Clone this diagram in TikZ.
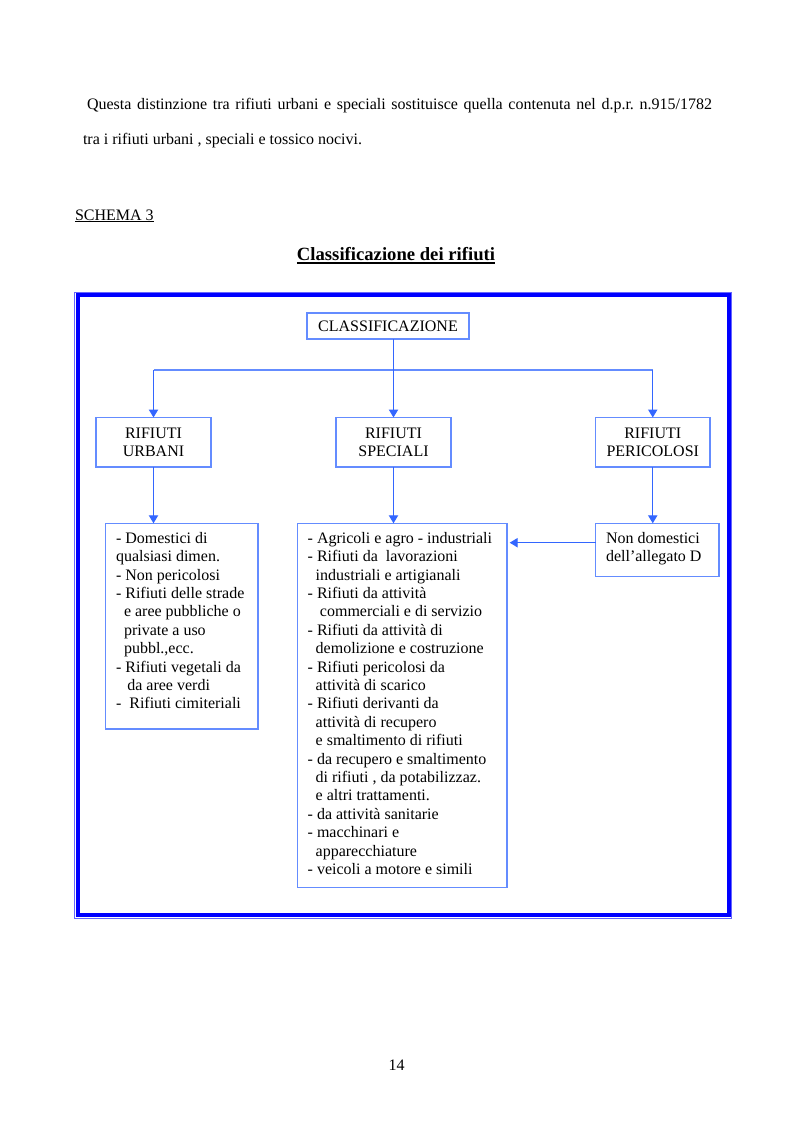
\documentclass[tikz,border=0pt]{standalone}
\usepackage{fontspec}
\setmainfont{Liberation Serif}
\usetikzlibrary{arrows.meta}
\newdimen\pxu \pxu=0.75pt
\definecolor{frameblue}{RGB}{0,0,255}
\definecolor{connblue}{RGB}{51,102,255}
\definecolor{boxblue}{RGB}{100,140,255}
\tikzset{
 every node/.style={inner sep=0pt, outer sep=0pt},
 txt/.style={font=\fontsize{12}{13.8}\selectfont},
 box/.style={draw=boxblue, line width=0.9pt, anchor=north west, font=\fontsize{12}{13.8}\selectfont, align=center},
 list/.style={anchor=north west, align=left, font=\fontsize{12}{13.8}\selectfont},
 conn/.style={draw=connblue, line width=0.8pt},
 hubline/.style={draw=boxblue, line width=0.8pt},
 arr/.style={conn, -{Triangle[length=6pt,width=7pt]}},
 framethick/.style={draw=frameblue, line width=3pt},
 framethin/.style={draw=frameblue!60, line width=0.6pt},
}
\begin{document}
\begin{tikzpicture}[x=0.75pt,y=-0.75pt]
\useasboundingbox (0,0) rectangle (793,1123);
\fill[white] (0,0) rectangle (793,1123);

% intro text
\node[anchor=base west, font=\fontsize{12}{13.8}\selectfont] (intro1) at (87,110)
  {\frenchspacing\makebox[468.75pt][s]{Questa distinzione tra rifiuti urbani e speciali sostituisce quella contenuta nel d.p.r. n.915/1782}};
\node[anchor=base west, font=\fontsize{12}{13.8}\selectfont] (intro2) at (83,145)
  {tra i rifiuti urbani , speciali e tossico nocivi.};

% heading
\node[anchor=base west, txt] (schema) at (75,220) {SCHEMA 3};
\draw[line width=0.75pt] ([yshift=-1.3pt]schema.base west) -- ([yshift=-1.3pt]schema.base east);
\node[anchor=base, font=\fontsize{14}{16}\selectfont\bfseries] (title) at (396,260.5) {Classificazione dei rifiuti};
\draw[line width=1.5pt] ([yshift=-2pt]title.base west) -- ([yshift=-2pt]title.base east);

% frame
\draw[framethin] (74.5,292) rectangle (731.5,918);
\draw[framethick] (77.5,295) rectangle (728.5,915);

% boxes
\node[box, minimum width=162\pxu, minimum height=26\pxu] (cls) at (307,313) {CLASSIFICAZIONE};
\node[box, minimum width=115\pxu, minimum height=49.5\pxu] (urb) at (96,417.5) {RIFIUTI\\URBANI};
\node[box, minimum width=115\pxu, minimum height=49.5\pxu] (spe) at (336,417.5) {RIFIUTI\\SPECIALI};
\node[box, minimum width=114.5\pxu, minimum height=49.5\pxu] (per) at (595.5,417.5) {RIFIUTI\\PERICOLOSI};
\node[box, minimum width=152.3\pxu, minimum height=205.7\pxu] (urbl) at (105.7,523.3) {};
\node[box, minimum width=209.3\pxu, minimum height=364.4\pxu] (spel) at (297.7,523.3) {};
\node[box, minimum width=123.3\pxu, minimum height=53.4\pxu] (nond) at (595.7,523.3) {};

% list texts
\node[list] (urbt) at (116,530.4) {\strut- Domestici di\\qualsiasi dimen.\\- Non pericolosi\\- Rifiuti delle strade\\\hspace*{6pt}e aree pubbliche o\\\hspace*{6pt}private a uso\\\hspace*{6pt}pubbl.,ecc.\\- Rifiuti vegetali da\\\hspace*{8.5pt}da aree verdi\\-\hspace*{6pt}Rifiuti cimiteriali};
\node[list] (spet) at (307.7,530.4) {\strut- Agricoli e agro - industriali\\- Rifiuti da\hspace*{6pt}lavorazioni\\\hspace*{6pt}industriali e artigianali\\- Rifiuti da attività\\\hspace*{9.2pt}commerciali e di servizio\\- Rifiuti da attività di\\\hspace*{6pt}demolizione e costruzione\\- Rifiuti pericolosi da\\\hspace*{6pt}attività di scarico\\- Rifiuti derivanti da\\\hspace*{6pt}attività di recupero\\\hspace*{6pt}e smaltimento di rifiuti\\- da recupero e smaltimento\\\hspace*{6pt}di rifiuti , da potabilizzaz.\\\hspace*{6pt}e altri trattamenti.\\- da attività sanitarie\\- macchinari e\\\hspace*{6pt}apparecchiature\\- veicoli a motore e simili};
\node[list] (nont) at (606,530.4) {\strut Non domestici\\dell’allegato D};

% connectors
\coordinate (hy) at (0,370);
\coordinate (ay) at (0,542.7);
\draw[hubline] (hy -| urb.north) -- (hy -| per.north);
\draw[arr] (cls.south -| spe.north) -- (spe.north);
\draw[arr] (hy -| urb.north) -- (urb.north);
\draw[arr] (hy -| per.north) -- (per.north);
\draw[arr] (urb.south) -- (urb.south |- urbl.north);
\draw[arr] (spe.south) -- (spe.south |- spel.north);
\draw[arr] (per.south) -- (per.south |- nond.north);
\draw[arr, shorten >=2pt] (nond.west |- ay) -- (spel.east |- ay);

% page number
\node[anchor=base, txt] (pnum) at (396.7,1070) {14};
\end{tikzpicture}
\end{document}
